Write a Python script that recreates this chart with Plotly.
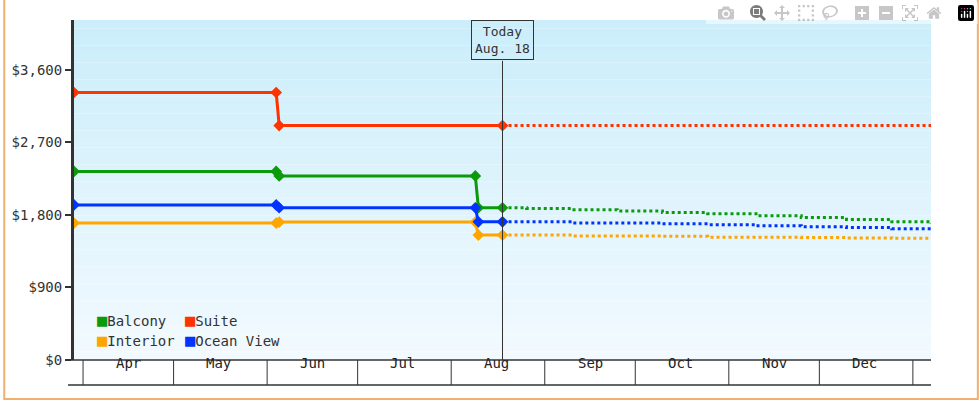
import plotly.graph_objects as go

# ---- data ----
names = ["Balcony", "Suite", "Interior", "Ocean View"]
colors = ["#0a9a0a", "#ff3300", "#ffa500", "#0033ff"]
hist_dates = {
    "Suite": ["2024-03-29", "2024-06-04", "2024-06-05", "2024-08-18"],
    "Balcony": ["2024-03-29", "2024-06-04", "2024-06-05", "2024-08-09", "2024-08-10", "2024-08-18"],
    "Ocean View": ["2024-03-29", "2024-06-04", "2024-06-05", "2024-08-09", "2024-08-10", "2024-08-18"],
    "Interior": ["2024-03-29", "2024-06-04", "2024-06-05", "2024-08-09", "2024-08-10", "2024-08-18"],
}
hist_vals = {
    "Suite": [3320, 3320, 2910, 2910],
    "Balcony": [2340, 2340, 2285, 2285, 1890, 1890],
    "Ocean View": [1925, 1925, 1890, 1890, 1715, 1715],
    "Interior": [1700, 1700, 1712, 1712, 1550, 1550],
}
fut_dates = ["2024-08-20", "2024-08-26", "2024-09-10", "2024-09-25", "2024-10-10",
             "2024-10-25", "2024-11-10", "2024-11-25", "2024-12-10", "2024-12-25", "2025-01-07"]
fut_vals = {
    "Suite": [2910] * 11,
    "Balcony": [1890, 1880, 1865, 1850, 1830, 1815, 1790, 1770, 1745, 1715, 1690],
    "Ocean View": [1715, 1715, 1700, 1700, 1690, 1680, 1665, 1655, 1645, 1630, 1620],
    "Interior": [1550, 1550, 1540, 1540, 1535, 1525, 1525, 1520, 1515, 1510, 1510],
}
months = ["Apr", "May", "Jun", "Jul", "Aug", "Sep", "Oct", "Nov", "Dec"]
month_starts = ["2024-04-01", "2024-05-01", "2024-06-01", "2024-07-01", "2024-08-01",
                "2024-09-01", "2024-10-01", "2024-11-01", "2024-12-01", "2025-01-01"]
month_mids = ["2024-04-16", "2024-05-16", "2024-06-16", "2024-07-16", "2024-08-16",
              "2024-09-16", "2024-10-16", "2024-11-16", "2024-12-16"]
yticks = [0, 900, 1800, 2700, 3600]
ytick_labels = ["$0", "$900", "$1,800", "$2,700", "$3,600"]
today = "2024-08-18"

FONT = "DejaVu Sans Mono"
fig = go.Figure()

# gradient background
n = 40
top = (204, 238, 251); bot = (242, 250, 255)
for i in range(n):
    t = i / (n - 1)
    c = tuple(int(top[k] + (bot[k] - top[k]) * t) for k in range(3))
    fig.add_shape(type="rect", xref="paper", yref="paper", x0=0, x1=1,
                  y0=1 - (i + 1) / n, y1=1 - i / n, fillcolor="rgb(%d,%d,%d)" % c,
                  line_width=0, layer="below")

for nm, col in zip(names, colors):
    fig.add_trace(go.Scatter(x=fut_dates, y=fut_vals[nm], mode="lines", line_shape="hv",
                             line=dict(color=col, width=3, dash="dot"), showlegend=False, hoverinfo="skip"))
for nm, col in zip(names, colors):
    fig.add_trace(go.Scatter(x=hist_dates[nm], y=hist_vals[nm], mode="lines+markers",
                             line=dict(color=col, width=3),
                             marker=dict(symbol="diamond", size=9, color=col), showlegend=False))

# today line + box
fig.add_shape(type="line", xref="x", yref="paper", x0=today, x1=today, y0=0, y1=0.88,
              line=dict(color="#333", width=1))
fig.add_annotation(x=today, y=1, xref="x", yref="paper", yanchor="top", showarrow=False,
                   text="Today<br>Aug. 18", font=dict(family=FONT, size=13, color="#333"),
                   bordercolor="#333", borderwidth=1, borderpad=3, bgcolor="rgba(0,0,0,0)")

# x axis boxes
yb = -25 / 340
for d in month_starts:
    fig.add_shape(type="line", xref="x", yref="paper", x0=d, x1=d, y0=0, y1=yb,
                  line=dict(color="#333", width=1))
fig.add_shape(type="line", xref="paper", yref="paper", x0=-0.007, x1=1.0, y0=yb, y1=yb,
              line=dict(color="#333", width=1.5))
fig.add_shape(type="line", xref="paper", yref="paper", x0=-0.007, x1=1.0, y0=0, y1=0,
              line=dict(color="#333", width=1.5))
for m, d in zip(months, month_mids):
    fig.add_annotation(x=d, y=yb / 2, xref="x", yref="paper", text=m, showarrow=False,
                       font=dict(family=FONT, size=14, color="#222"))

# legend (manual)
leg = [("Balcony", colors[0], 92, 320), ("Suite", colors[1], 180, 320),
       ("Interior", colors[2], 92, 340), ("Ocean View", colors[3], 180, 340)]
for txt, col, px, py in leg:
    fig.add_annotation(xref="paper", yref="paper", x=(px - 71) / 860, y=(360 - py) / 340,
                       xanchor="left", yanchor="middle", showarrow=False,
                       text="<span style='color:%s;font-size:17px'>■</span>%s" % (col, txt),
                       font=dict(family=FONT, size=14, color="#333"))

# page border
fig.add_shape(type="rect", xref="paper", yref="paper", x0=-70 / 860, x1=(978 - 71) / 860,
              y0=-39 / 340, y1=379 / 340, line=dict(color="#f0b070", width=2))

fig.update_layout(
    width=980, height=400, margin=dict(l=71, r=49, t=20, b=40),
    paper_bgcolor="white", plot_bgcolor="rgba(0,0,0,0)", showlegend=False,
    font=dict(family=FONT, size=14, color="#333"),
    xaxis=dict(range=["2024-03-29", "2025-01-07"], showgrid=False, showticklabels=False,
               zeroline=False, showline=False, ticks=""),
    yaxis=dict(range=[0, 4220], tickvals=yticks, ticktext=ytick_labels,
               showgrid=False, zeroline=False, showline=True, linecolor="#333", linewidth=3,
               ticks="outside", ticklen=6, tickcolor="#333", tickwidth=2),
)
fig.write_html("out.html", post_script="document.body.style.margin='0';")
